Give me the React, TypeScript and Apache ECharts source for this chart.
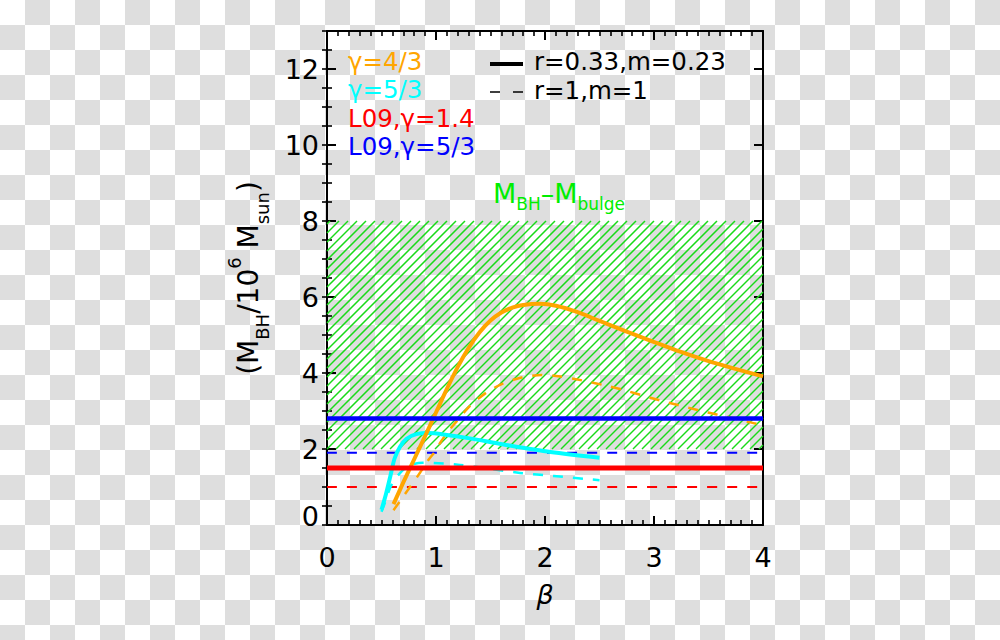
import { useEffect, useRef } from "react";
import * as echarts from "echarts";

// ---- data ----
const betaG43Solid = [0.61, 0.70, 0.80, 0.90, 1.00, 1.10, 1.20, 1.30, 1.40, 1.50, 1.60, 1.70, 1.80, 1.95, 2.10, 2.30, 2.50, 2.72, 2.96, 3.24, 3.48, 3.73, 4.00];
const mbhG43Solid = [0.55, 1.12, 1.73, 2.34, 2.96, 3.58, 4.16, 4.66, 5.07, 5.38, 5.59, 5.72, 5.79, 5.82, 5.77, 5.60, 5.37, 5.12, 4.86, 4.56, 4.33, 4.12, 3.91];

const betaG43Dashed = [0.61, 0.70, 0.85, 0.93, 0.99, 1.04, 1.10, 1.16, 1.22, 1.31, 1.47, 1.62, 1.80, 1.98, 2.14, 2.35, 2.57, 2.75, 2.93, 3.12, 3.30, 3.48, 3.67, 3.85, 4.00];
const mbhG43Dashed = [0.39, 0.75, 1.36, 1.71, 1.93, 2.17, 2.42, 2.63, 2.83, 3.13, 3.50, 3.73, 3.89, 3.95, 3.91, 3.80, 3.66, 3.53, 3.38, 3.23, 3.10, 2.97, 2.85, 2.72, 2.63];

const betaG53Solid = [0.50, 0.54, 0.58, 0.62, 0.67, 0.73, 0.82, 0.93, 1.10, 1.31, 1.62, 2.05, 2.50];
const mbhG53Solid = [0.40, 0.80, 1.27, 1.75, 2.06, 2.27, 2.39, 2.42, 2.37, 2.28, 2.12, 1.92, 1.77];

const betaG53Dashed = [0.50, 0.54, 0.59, 0.68, 0.76, 0.88, 1.07, 1.22, 1.47, 1.77, 2.08, 2.38, 2.50];
const mbhG53Dashed = [0.35, 0.65, 1.05, 1.40, 1.57, 1.64, 1.62, 1.58, 1.49, 1.37, 1.29, 1.21, 1.18];

const betaRange = [0, 4];
const l09G14 = { solid: 1.5, dashed: 1.0 };
const l09G53 = { solid: 2.8, dashed: 1.9 };
// hatched M_BH - M_bulge band: [beta from, M from, beta to, M to]
const bulgeBand = [0, 2, 4, 8];

const yMin = 0;
const yMax = 13;
const xMin = 0;
const xMax = 4;

const FONT = "'DejaVu Sans', 'Liberation Sans', sans-serif";
const ORANGE = "#ffa500";
const CYAN = "#00ffff";
const RED = "#ff0000";
const BLUE = "#0000ff";
const GREEN = "#00ee00";

const pairs = (xs: number[], ys: number[]) => xs.map((x, i) => [x, ys[i]]);
const hline = (v: number) => betaRange.map((b) => [b, v]);

export default function App() {
  const ref = useRef<HTMLDivElement>(null);

  useEffect(() => {
    const chart = echarts.init(ref.current!, null, { renderer: "svg" });

    const axisLine = { show: true, onZero: false, lineStyle: { color: "#000", width: 2 } };
    const majorTick = { show: true, inside: true, length: 9, lineStyle: { color: "#000", width: 2 } };
    const minorTickY = { show: true, inside: true, length: 5, lineStyle: { color: "#000", width: 1.6 } };

    const lineSeries = (data: number[][], color: string, width: number, dashed: boolean, z: number) => ({
      type: "line",
      data,
      xAxisIndex: 0,
      yAxisIndex: 0,
      symbol: "none",
      smooth: 0.3,
      z,
      lineStyle: { color, width, type: dashed ? [10, 10] : "solid", cap: "butt", join: "round" },
      silent: true,
    });

    const legendText = (text: string, x: number, y: number, fill: string, size: number) => ({
      type: "text",
      x,
      y,
      style: { text, fill, fontSize: size, fontFamily: FONT, align: "left", verticalAlign: "middle", lineHeight: 22 },
    });

    const option: any = {
      animation: false,
      backgroundColor: "transparent",
      grid: { left: 327, right: 237, top: 31, bottom: 115, containLabel: false },
      xAxis: [
        {
          type: "value",
          position: "bottom",
          min: xMin,
          max: xMax,
          interval: 1,
          axisLine,
          axisTick: majorTick,
          minorTick: { show: true, splitNumber: 10, length: 5, lineStyle: { color: "#000", width: 1.6 } },
          splitLine: { show: false },
          minorSplitLine: { show: false },
          axisLabel: { margin: 19, color: "#000", fontSize: 27, fontFamily: FONT },
          name: "β",
          nameLocation: "middle",
          nameGap: 56,
          nameTextStyle: { fontSize: 27, fontStyle: "italic", color: "#000", fontFamily: FONT },
        },
        {
          type: "value",
          position: "top",
          min: xMin,
          max: xMax,
          interval: 1,
          axisLine,
          axisTick: majorTick,
          minorTick: { show: true, splitNumber: 10, length: 5, lineStyle: { color: "#000", width: 1.6 } },
          splitLine: { show: false },
          minorSplitLine: { show: false },
          axisLabel: { show: false },
        },
      ],
      yAxis: [
        {
          type: "value",
          position: "left",
          min: yMin,
          max: yMax,
          interval: 2,
          axisLine,
          axisTick: majorTick,
          splitLine: { show: false },
          axisLabel: {
            margin: 8,
            color: "#000",
            fontSize: 27,
            fontFamily: FONT,
            formatter: (v: number) => (v === 0 ? "{z|0}" : v % 2 === 0 ? String(v) : ""),
            rich: { z: { fontSize: 27, fontFamily: FONT, color: "#000", padding: [0, 0, 18, 0] } },
          },
          name: "{p|(}{p|M}{s|BH}{p|/10}{u|6}{p| M}{s|sun}{p|)}",
          nameLocation: "middle",
          nameRotate: 90,
          nameGap: 56,
          nameTextStyle: {
            color: "#000",
            fontFamily: FONT,
            fontSize: 28,
            rich: {
              p: { fontSize: 28, fontFamily: FONT, color: "#000", lineHeight: 46 },
              s: { fontSize: 18, fontFamily: FONT, color: "#000", lineHeight: 18, verticalAlign: "bottom" },
              u: { fontSize: 18, fontFamily: FONT, color: "#000", lineHeight: 18, verticalAlign: "top" },
            },
          },
        },
        {
          type: "value",
          position: "left",
          min: yMin,
          max: yMax,
          interval: 0.5,
          axisLine: { show: false },
          axisTick: minorTickY,
          splitLine: { show: false },
          axisLabel: { show: false },
        },
        {
          type: "value",
          position: "right",
          min: yMin,
          max: yMax,
          interval: 2,
          axisLine,
          axisTick: majorTick,
          splitLine: { show: false },
          axisLabel: { show: false },
        },
        {
          type: "value",
          position: "right",
          min: yMin,
          max: yMax,
          interval: 0.5,
          axisLine: { show: false },
          axisTick: minorTickY,
          splitLine: { show: false },
          axisLabel: { show: false },
        },
      ],
      series: [
        {
          type: "custom",
          xAxisIndex: 0,
          yAxisIndex: 0,
          silent: true,
          z: 1,
          data: [bulgeBand],
          renderItem: (_params: any, api: any) => {
            const tl = api.coord([api.value(0), api.value(3)]);
            const br = api.coord([api.value(2), api.value(1)]);
            const L = tl[0], T = tl[1], R = br[0], B = br[1];
            const step = 9;
            const children: any[] = [];
            for (let c = L + T + 3; c <= R + B; c += step) {
              const xa = Math.max(L, c - B);
              const xb = Math.min(R, c - T);
              if (xb <= xa) continue;
              children.push({
                type: "line",
                shape: { x1: xa, y1: c - xa, x2: xb, y2: c - xb },
                style: { stroke: "#1ada1a", lineWidth: 1.5 },
              });
            }
            return { type: "group", children };
          },
        },
        lineSeries(hline(l09G14.dashed), RED, 2, true, 3),
        lineSeries(hline(l09G53.dashed), BLUE, 2, true, 3),
        lineSeries(pairs(betaG53Dashed, mbhG53Dashed), CYAN, 2.5, true, 4),
        lineSeries(pairs(betaG43Dashed, mbhG43Dashed), ORANGE, 2.5, true, 4),
        lineSeries(pairs(betaG53Solid, mbhG53Solid), CYAN, 4, false, 5),
        lineSeries(pairs(betaG43Solid, mbhG43Solid), ORANGE, 4, false, 5),
        lineSeries(hline(l09G14.solid), RED, 5, false, 6),
        lineSeries(hline(l09G53.solid), BLUE, 4.5, false, 6),
      ],
      graphic: [
        legendText("γ=4/3", 348, 61, ORANGE, 24.5),
        legendText("γ=5/3", 348, 89.5, CYAN, 24.5),
        legendText("L09,γ=1.4", 348, 118, RED, 24.5),
        legendText("L09,γ=5/3", 348, 146.5, BLUE, 24.5),
        { type: "line", shape: { x1: 490, y1: 64, x2: 523, y2: 64 }, style: { stroke: "#000", lineWidth: 4 } },
        { type: "line", shape: { x1: 490, y1: 92, x2: 523, y2: 92 }, style: { stroke: "#000", lineWidth: 1.6, lineDash: [10, 13] } },
        legendText("r=0.33,m=0.23", 534, 61, "#000", 24.5),
        legendText("r=1,m=1", 534, 90, "#000", 24.5),
        {
          type: "text",
          x: 559,
          y: 193,
          style: {
            text: "{m|M}{s|BH}{m|–M}{s|bulge}",
            fill: GREEN,
            fontFamily: FONT,
            fontSize: 27,
            align: "center",
            verticalAlign: "middle",
            rich: {
              m: { fontSize: 27, fontFamily: FONT, fill: GREEN, lineHeight: 39 },
              s: { fontSize: 17, fontFamily: FONT, fill: GREEN, lineHeight: 17, verticalAlign: "bottom" },
            },
          },
        },
      ],
    };

    chart.setOption(option);
    return () => chart.dispose();
  }, []);

  return (
    <div
      ref={ref}
      style={{
        position: "fixed",
        left: 0,
        top: 0,
        width: 1000,
        height: 640,
        backgroundColor: "#ffffff",
        backgroundImage: "conic-gradient(#dedede 25%, transparent 0 50%, #dedede 0 75%, transparent 0)",
        backgroundSize: "50px 50px",
      }}
    />
  );
}
